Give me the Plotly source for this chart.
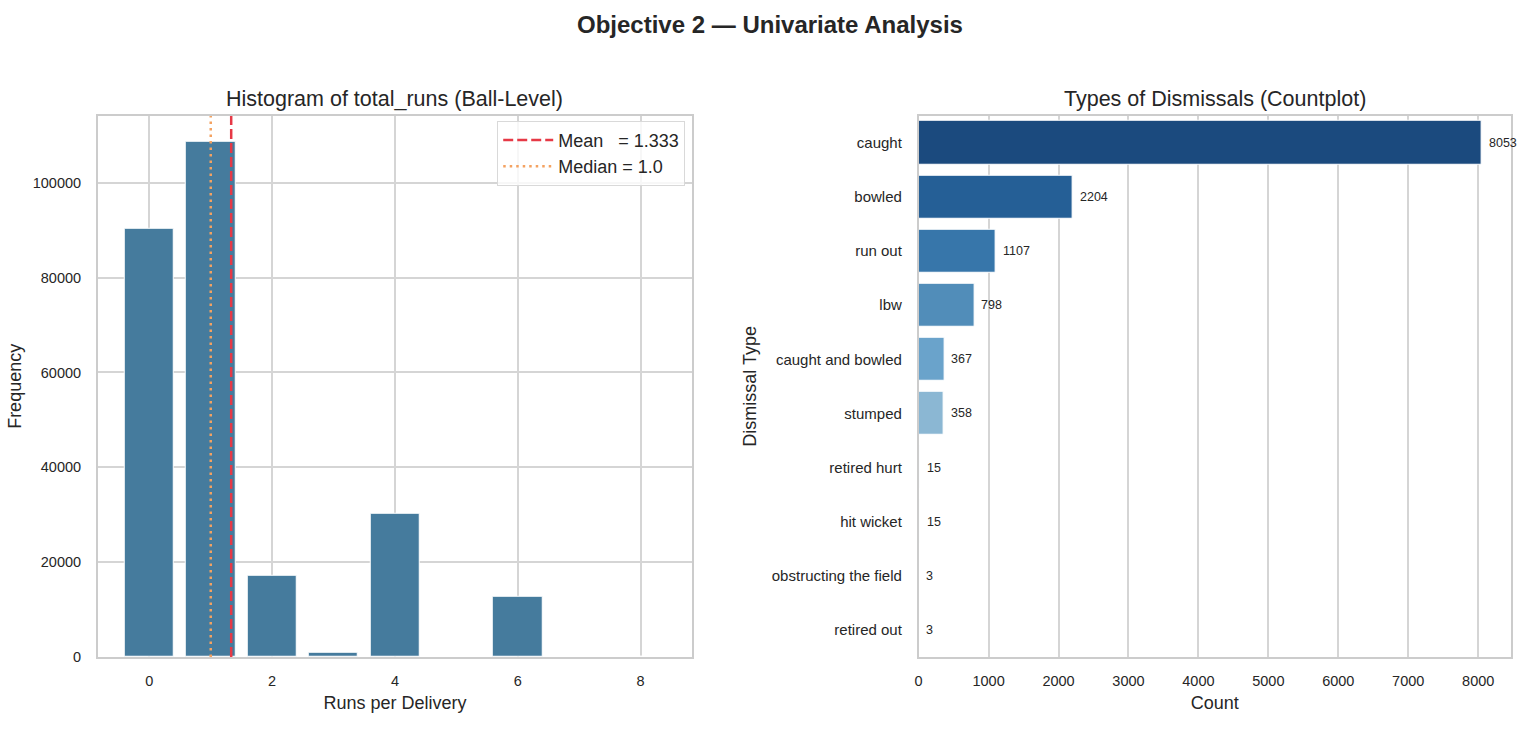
import plotly.graph_objects as go

# ---- data ----
runs = [0, 1, 2, 3, 4, 5, 6, 7, 8]
run_counts = [90300, 108700, 17100, 850, 30200, 90, 12800, 0, 15]
mean_val = 1.333
median_val = 1.0

dismissal_types = ["caught", "bowled", "run out", "lbw", "caught and bowled",
                   "stumped", "retired hurt", "hit wicket",
                   "obstructing the field", "retired out"]
dismissal_counts = [8053, 2204, 1107, 798, 367, 358, 15, 15, 3, 3]
dismissal_colors = ["#1b4a7e", "#255f96", "#3776aa", "#518db9", "#6aa3cb",
                    "#8bb7d3", "#aecde2", "#c6dbed", "#d9e7f4", "#e8f1f9"]

FONT = "Liberation Sans, Arial, sans-serif"
TXT = "#262626"
GRID = "#d5d5d5"
H = 754

fig = go.Figure()

# ---- left: histogram ----
fig.add_trace(go.Bar(
    x=runs, y=run_counts, width=0.8,
    marker=dict(color="#457b9d", line=dict(color="white", width=1)),
    showlegend=False, xaxis="x", yaxis="y"))

ymax = max(run_counts) * 1.05
fig.add_trace(go.Scatter(
    x=[mean_val, mean_val], y=[0, ymax], mode="lines",
    line=dict(color="#e63946", width=2.5, dash="10px,4px"),
    name="Mean\u00a0\u00a0\u00a0= 1.333", xaxis="x", yaxis="y"))
fig.add_trace(go.Scatter(
    x=[median_val, median_val], y=[0, ymax], mode="lines",
    line=dict(color="#f4a261", width=2.5, dash="2.5px,4px"),
    name="Median = 1.0", xaxis="x", yaxis="y"))

# ---- right: dismissals ----
fig.add_trace(go.Bar(
    y=dismissal_types, x=dismissal_counts, orientation="h", width=0.8,
    marker=dict(color=dismissal_colors, line=dict(color="white", width=1)),
    showlegend=False, xaxis="x2", yaxis="y2"))

annotations = []
for t, c in zip(dismissal_types, dismissal_counts):
    annotations.append(dict(x=c, y=t, xref="x2", yref="y2", text=str(c),
                            showarrow=False, xanchor="left", xshift=5,
                            font=dict(size=12.5, color=TXT, family=FONT)))

top_px, bot_px = 117, 664
ydom = [(H - bot_px) / H, (H - top_px) / H]
x1dom = [94 / 1536, 690 / 1536]
x2dom = [917 / 1536, 1511 / 1536]

annotations += [
    dict(text="<b>Objective 2 — Univariate Analysis</b>", x=0.5, y=1 - 25 / H,
         xref="paper", yref="paper", showarrow=False, xanchor="center", yanchor="middle",
         font=dict(size=24, color=TXT, family=FONT)),
    dict(text="Histogram of total_runs (Ball-Level)", x=sum(x1dom) / 2, y=1 - 100 / H,
         xref="paper", yref="paper", showarrow=False, xanchor="center", yanchor="middle",
         font=dict(size=21.5, color=TXT, family=FONT)),
    dict(text="Types of Dismissals (Countplot)", x=sum(x2dom) / 2, y=1 - 100 / H,
         xref="paper", yref="paper", showarrow=False, xanchor="center", yanchor="middle",
         font=dict(size=21.5, color=TXT, family=FONT)),
]

axis_common = dict(showgrid=True, gridcolor=GRID, gridwidth=1.5,
                   showline=True, linecolor="#cccccc", linewidth=1.5, mirror=True,
                   zeroline=False, tickfont=dict(size=14.5, color=TXT, family=FONT),
                   ticks="outside", tickcolor="rgba(0,0,0,0)")
TT = dict(size=18, color=TXT, family=FONT)

fig.update_layout(
    width=1536, height=H,
    margin=dict(l=0, r=0, t=0, b=0),
    paper_bgcolor="white", plot_bgcolor="white",
    font=dict(family=FONT, color=TXT),
    bargap=0,
    annotations=annotations,
    xaxis=dict(domain=x1dom, anchor="y", range=[-0.84, 8.84],
               tickvals=[0, 2, 4, 6, 8], ticklen=10,
               title=dict(text="Runs per Delivery", font=TT, standoff=8),
               **axis_common),
    yaxis=dict(domain=ydom, anchor="x", range=[0, ymax],
               tickvals=[0, 20000, 40000, 60000, 80000, 100000], tickformat="d", ticklen=12,
               title=dict(text="Frequency", font=TT, standoff=6),
               **axis_common),
    xaxis2=dict(domain=x2dom, anchor="y2", range=[0, 8470],
                tickvals=[0, 1000, 2000, 3000, 4000, 5000, 6000, 7000, 8000], tickformat="d",
                ticklen=10,
                title=dict(text="Count", font=TT, standoff=8),
                **axis_common),
    yaxis2=dict(domain=ydom, anchor="x2", range=[9.5, -0.5], type="category",
                categoryorder="array", categoryarray=dismissal_types, ticklen=12,
                title=dict(text="Dismissal Type", font=TT, standoff=10),
                **{**axis_common, "showgrid": False,
                   "tickfont": dict(size=15, color=TXT, family=FONT)}),
    legend=dict(x=683 / 1536, xanchor="right", y=1 - 122 / H, yanchor="top",
                bgcolor="rgba(255,255,255,0.8)", bordercolor="#d9d9d9", borderwidth=1,
                font=dict(size=18, color=TXT, family=FONT), itemwidth=50,
                tracegroupgap=0),
)

fig.write_html("out.html")
